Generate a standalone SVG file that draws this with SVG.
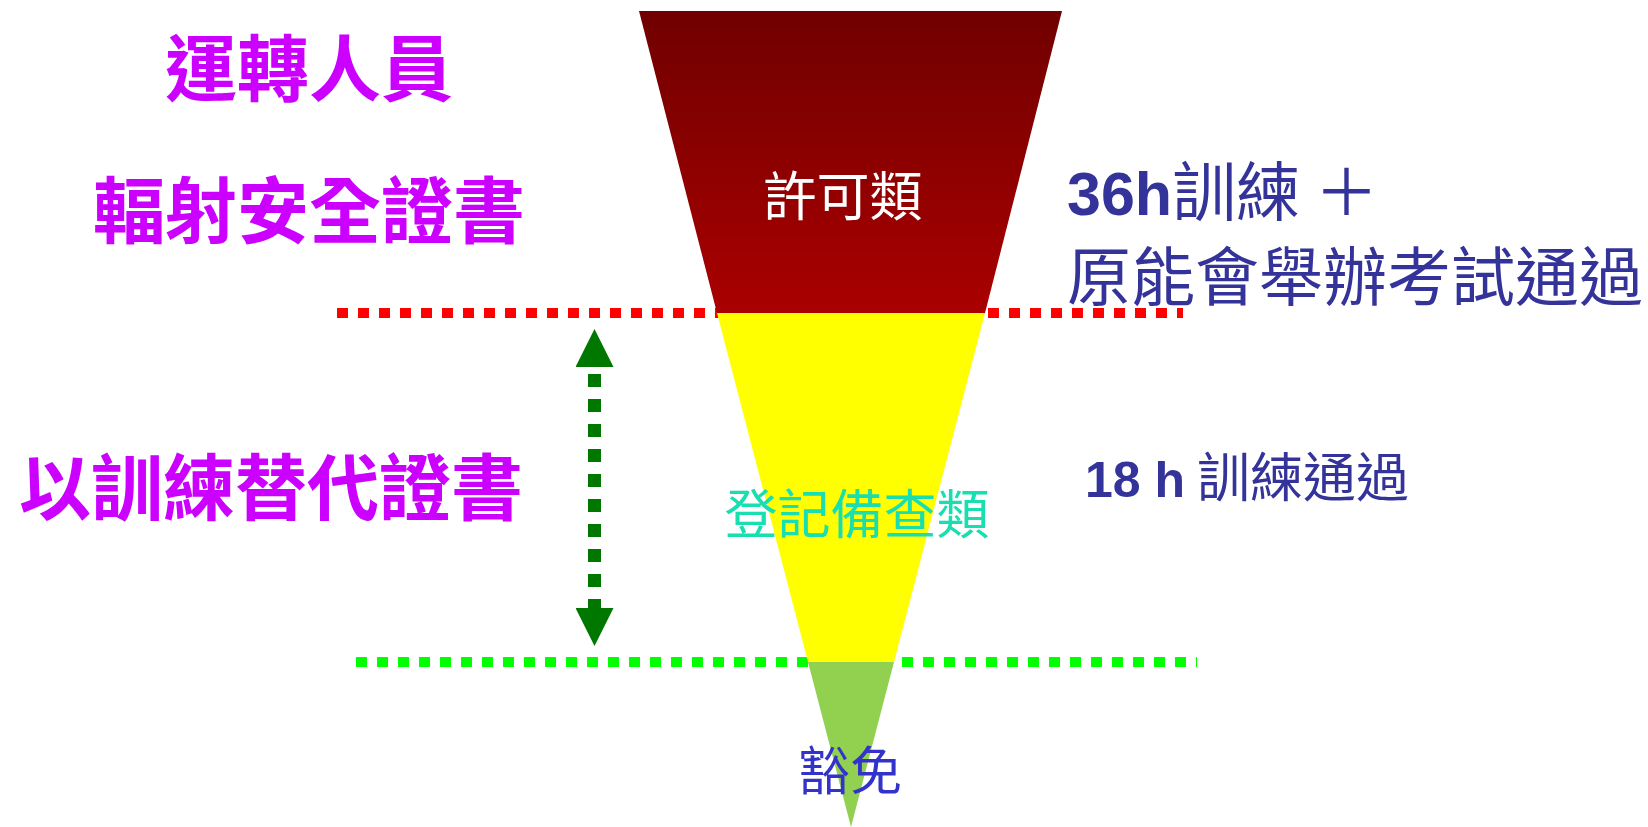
<svg xmlns="http://www.w3.org/2000/svg" width="1648" height="827" viewBox="0 0 1648 827">
  <style>
    .kai { font-family: "Noto Sans CJK TC", "Noto Sans CJK SC", sans-serif; font-weight: 700; font-size: 72px; fill: #cc00ff; }
    .ming { font-family: "Noto Sans CJK TC", "Noto Sans CJK SC", sans-serif; font-weight: 400; }
    .lat { font-family: "Liberation Sans", Arial, sans-serif; font-weight: 700; }
    .blue { fill: #333399; }
    .dash-red { stroke: #ff0000; stroke-width: 10; stroke-dasharray: 11 10; fill: none; }
    .dash-green { stroke: #00ff00; stroke-width: 10; stroke-dasharray: 11 10; fill: none; }
    .shaft { stroke: #007800; stroke-width: 13; stroke-dasharray: 13 12; stroke-dashoffset: -7; fill: none; }
  </style>
  <defs>
    <linearGradient id="redGrad" x1="0" y1="0" x2="0" y2="1">
      <stop offset="0" stop-color="#700000"/>
      <stop offset="1" stop-color="#aa0000"/>
    </linearGradient>
    <marker id="head" viewBox="0 0 38 38" refX="0" refY="19" markerWidth="38" markerHeight="38" markerUnits="userSpaceOnUse" orient="auto-start-reverse">
      <path d="M0,0 L38,19 L0,38 Z" fill="#007800"/>
    </marker>
  </defs>
  <rect width="1648" height="827" fill="#ffffff"/>

  <g id="connectors">
    <line class="dash-red" x1="337" y1="313" x2="1183" y2="313"/>
    <line class="dash-green" x1="356" y1="662" x2="1197" y2="662"/>
    <line class="shaft" x1="594.5" y1="367" x2="594.5" y2="608" marker-start="url(#head)" marker-end="url(#head)"/>
  </g>

  <g id="node-permit">
    <polygon points="639,11 1062,11 985,313 717,313" fill="url(#redGrad)"/>
    <text class="ming" x="843" y="216" font-size="53" fill="#ffffff" text-anchor="middle">許可類</text>
  </g>
  <g id="node-register">
    <polygon points="717,313 985,313 894,662 808,662" fill="#ffff00"/>
    <text class="ming" x="857" y="534" font-size="53" fill="#19dfb0" text-anchor="middle">登記備查類</text>
  </g>
  <g id="node-exempt">
    <polygon points="808,662 894,662 851,827" fill="#92d050"/>
    <text class="ming" x="850" y="790" font-size="52" fill="#3333cc" text-anchor="middle">豁免</text>
  </g>

  <g id="label-operator">
    <text class="kai" x="165" y="95">運轉人員</text>
    <text class="kai" x="93" y="237">輻射安全證書</text>
  </g>
  <g id="label-training">
    <text class="kai" x="19" y="514">以訓練替代證書</text>
  </g>
  <g id="label-36h">
    <text class="blue" y="215"><tspan class="lat" x="1067" font-size="61">36h</tspan><tspan class="ming" font-size="64">訓練 ＋</tspan></text>
    <text class="ming blue" x="1067" y="300" font-size="64">原能會舉辦考試通過</text>
  </g>
  <g id="label-18h">
    <text class="blue" y="497"><tspan class="lat" x="1085" font-size="50">18 h</tspan><tspan class="ming" font-size="53"> 訓練通過</tspan></text>
  </g>
</svg>
